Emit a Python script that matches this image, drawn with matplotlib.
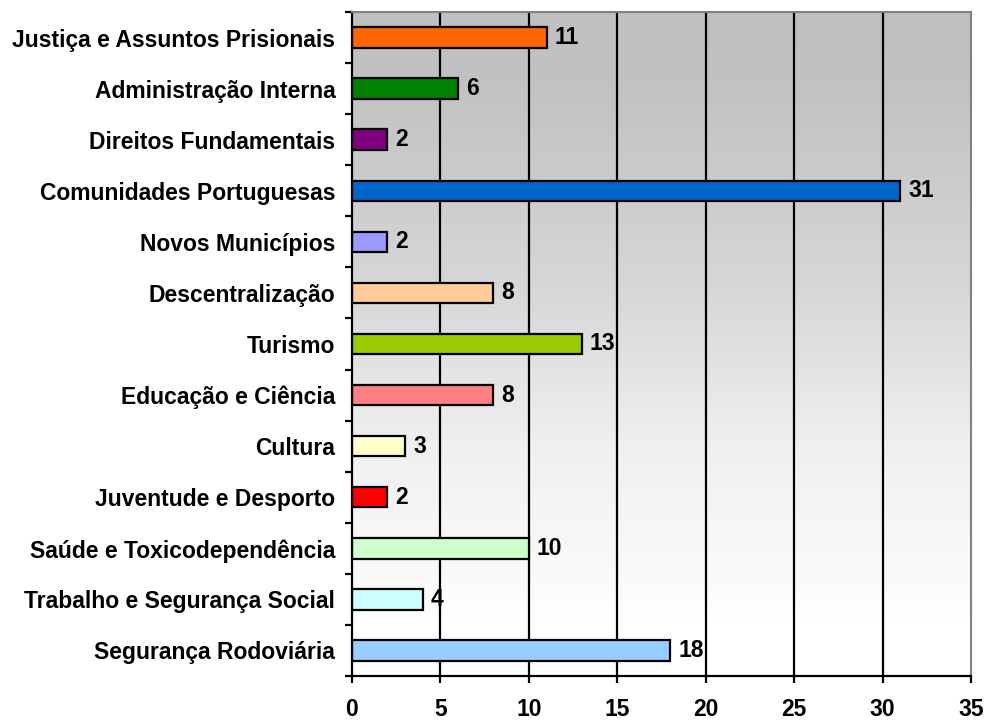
import numpy as np
import matplotlib
matplotlib.use('Agg')
import matplotlib.pyplot as plt

categories = ['Justiça e Assuntos Prisionais', 'Administração Interna', 'Direitos Fundamentais',
              'Comunidades Portuguesas', 'Novos Municípios', 'Descentralização', 'Turismo',
              'Educação e Ciência', 'Cultura', 'Juventude e Desporto', 'Saúde e Toxicodependência',
              'Trabalho e Segurança Social', 'Segurança Rodoviária']
values = [11, 6, 2, 31, 2, 8, 13, 8, 3, 2, 10, 4, 18]
colors = ['#FF6600', '#008000', '#800080', '#0066CC', '#9999FF', '#FFCC99', '#99CC00',
          '#FF8080', '#FFFFCC', '#FF0000', '#CCFFCC', '#CCFFFF', '#99CCFF']
xticks = [0, 5, 10, 15, 20, 25, 30, 35]

plt.rcParams['font.family'] = ['Liberation Sans', 'DejaVu Sans']
fs = 16.5

fig = plt.figure(figsize=(9.87, 7.2), dpi=100)
ax = fig.add_axes([352/987, 1 - 676/720, (971-352)/987, (676-12)/720])

n = len(categories)
y = np.arange(n)[::-1]

# background gradient: grey at top, fading to white near the bottom
grad = np.linspace(0, 1, 512).reshape(-1, 1)
cmap = matplotlib.colors.LinearSegmentedColormap.from_list(
    'bg', [(0, '#C0C0C0'), (0.12, '#C2C2C2'), (0.47, '#D8D8D8'),
           (0.72, '#F0F0F0'), (0.93, '#FAFAFA'), (1, '#FFFFFF')])
ax.set_facecolor('white')
ax.imshow(grad, aspect='auto', cmap=cmap, extent=[0, 35, 0.6, n - 0.5],
          origin='upper', zorder=0, interpolation='bilinear')

for xv in xticks[1:-1]:
    ax.axvline(xv, color='black', lw=1.6, zorder=1)

ax.barh(y, values, height=0.4, color=colors, edgecolor='black', lw=1.6, zorder=2)
for yi, v in zip(y, values):
    ax.text(v + 0.45, yi, str(v), va='center', ha='left', fontsize=fs, fontweight='bold', zorder=3)

ax.set_xlim(0, 35)
ax.set_ylim(-0.5, n - 0.5)
ax.set_xticks(xticks)
ax.set_xticklabels([str(t) for t in xticks], fontsize=fs, fontweight='bold')
ax.set_yticks(y)
ax.set_yticklabels(categories, fontsize=fs, fontweight='bold')
ax.set_yticks(np.arange(-0.5, n, 1), minor=True)
ax.tick_params(axis='y', which='major', length=0, pad=12)
ax.tick_params(axis='y', which='minor', length=5, width=1.6, direction='out')
ax.tick_params(axis='x', which='major', length=5, width=1.6, direction='out', pad=11)

ax.spines['left'].set_linewidth(1.6)
ax.spines['bottom'].set_linewidth(1.6)
ax.spines['top'].set_color('#808080')
ax.spines['right'].set_color('#808080')
ax.spines['top'].set_linewidth(1.5)
ax.spines['right'].set_linewidth(1.5)

fig.savefig('out.png', dpi=100)
